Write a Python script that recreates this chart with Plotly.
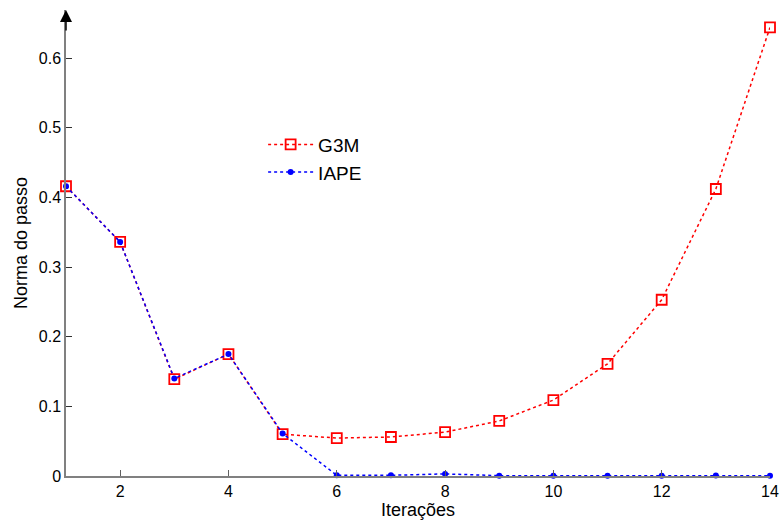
import plotly.graph_objects as go

iterations = list(range(1, 15))
g3m = [0.416, 0.336, 0.139, 0.175, 0.060, 0.0545, 0.056, 0.063, 0.079, 0.109, 0.161, 0.253, 0.412, 0.644]
iape = [0.416, 0.336, 0.140, 0.175, 0.061, 0.001, 0.001, 0.003, 0.0005, 0.0005, 0.0005, 0.0005, 0.0008, 0.0005]
x_ticks = [2, 4, 6, 8, 10, 12, 14]
y_ticks = [0, 0.1, 0.2, 0.3, 0.4, 0.5, 0.6]
y_tick_labels = ["0", "0.1", "0.2", "0.3", "0.4", "0.5", "0.6"]

fig = go.Figure()
fig.add_trace(go.Scatter(
    x=iterations, y=g3m, name="G3M", mode="lines+markers",
    line=dict(color="#ff0000", width=1.5, dash="dot"),
    marker=dict(symbol="square-open", size=10, color="#ff0000", line=dict(width=1.8)),
    cliponaxis=False,
))
fig.add_trace(go.Scatter(
    x=iterations, y=iape, name="IAPE", mode="lines+markers",
    line=dict(color="#0000ff", width=1.5, dash="dot"),
    marker=dict(symbol="circle", size=6, color="#0000ff"),
    cliponaxis=False,
))

ytop = 0.669
fig.add_annotation(x=1, y=ytop, xref="x", yref="y", ax=0, ay=22, axref="pixel", ayref="pixel",
                   text="", showarrow=True, arrowhead=2, arrowsize=1.6, arrowwidth=1.5, arrowcolor="black")

fig.update_layout(
    width=780, height=527,
    margin=dict(l=66, r=10, t=10, b=51, autoexpand=False),
    paper_bgcolor="white", plot_bgcolor="white",
    font=dict(family="Liberation Sans, Arial, sans-serif", size=16, color="black"),
    showlegend=True,
    legend=dict(x=0.28, y=0.752, xanchor="left", yanchor="top", bgcolor="rgba(0,0,0,0)",
                font=dict(size=19), tracegroupgap=0, itemwidth=45),
    xaxis=dict(range=[1, 14], tickvals=x_ticks, ticktext=[str(v) for v in x_ticks],
               showline=True, linecolor="#808080", linewidth=1.5, ticks="inside", ticklen=6,
               tickcolor="#606060", showgrid=False, zeroline=False, automargin=False,
               title=dict(text="Iterações", font=dict(size=18), standoff=2)),
    yaxis=dict(range=[0, ytop], tickvals=y_ticks, ticktext=y_tick_labels,
               showline=True, linecolor="#808080", linewidth=1.5, ticks="inside", ticklen=6,
               tickcolor="#303030", showgrid=False, zeroline=False, automargin=False,
               title=dict(text="Norma do passo", font=dict(size=18), standoff=6)),
)

fig.write_html("out.html", config={"displayModeBar": False},
               post_script="document.body.style.margin='0';document.body.style.overflow='hidden';")
